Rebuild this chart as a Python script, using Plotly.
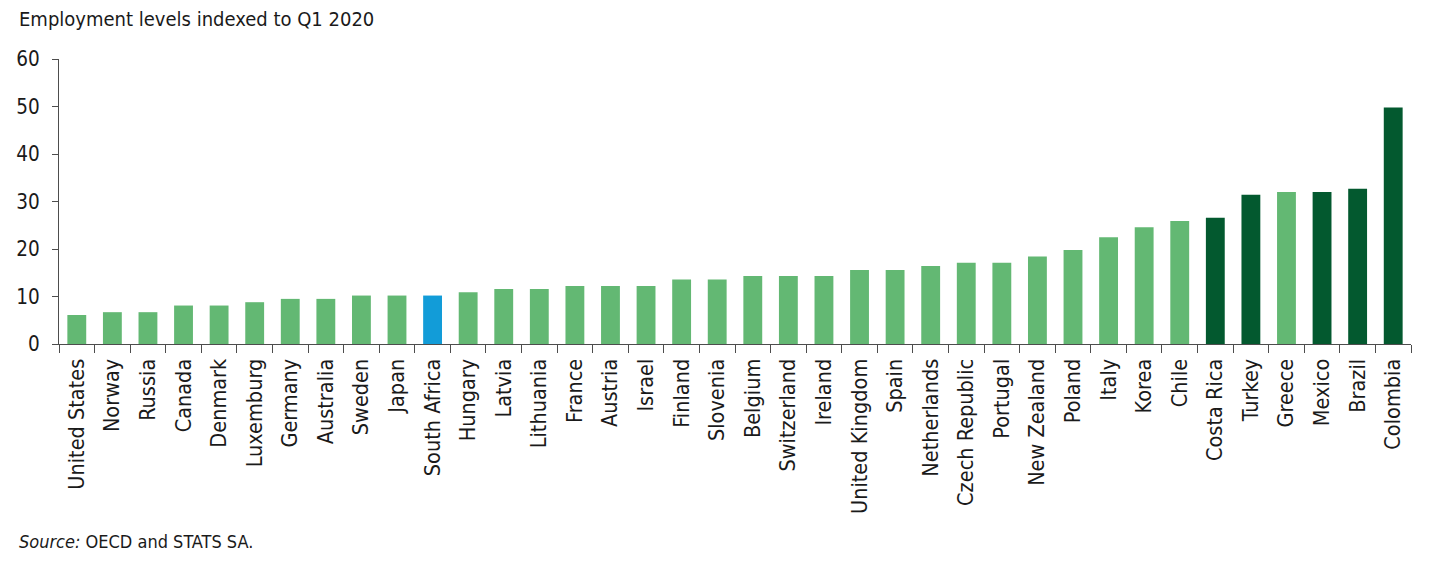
import plotly.graph_objects as go

countries = ["United States", "Norway", "Russia", "Canada", "Denmark", "Luxemburg", "Germany",
             "Australia", "Sweden", "Japan", "South Africa", "Hungary", "Latvia", "Lithuania",
             "France", "Austria", "Israel", "Finland", "Slovenia", "Belgium", "Switzerland",
             "Ireland", "United Kingdom", "Spain", "Netherlands", "Czech Republic", "Portugal",
             "New Zealand", "Poland", "Italy", "Korea", "Chile", "Costa Rica", "Turkey", "Greece",
             "Mexico", "Brazil", "Colombia"]
values = [6.1, 6.7, 6.7, 8.1, 8.1, 8.8, 9.5, 9.5, 10.2, 10.2, 10.2, 10.9, 11.6, 11.6,
          12.2, 12.2, 12.2, 13.6, 13.6, 14.3, 14.3, 14.3, 15.6, 15.6, 16.4, 17.1, 17.1,
          18.4, 19.8, 22.5, 24.6, 25.9, 26.6, 31.4, 32.0, 32.0, 32.7, 49.8]
highlight_sa = ["South Africa"]
highlight_dark = ["Costa Rica", "Turkey", "Mexico", "Brazil", "Colombia"]
y_ticks = [0, 10, 20, 30, 40, 50, 60]

LIGHT = "#63b873"
DARK = "#03592f"
BLUE = "#129cd8"
colors = [BLUE if c in highlight_sa else DARK if c in highlight_dark else LIGHT for c in countries]

FONT = "DejaVu Sans Condensed, Liberation Sans Narrow, sans-serif"
TXT = "#1a1a1a"
AX = "#4d4d4d"

# page body has an 8px margin, so the figure is sized/offset accordingly
W, H = 1425, 558
ML, MR, MT, MB = 51, 22, 51, 222
PW = W - ML - MR
PH = H - MT - MB

fig = go.Figure(go.Bar(x=countries, y=values, marker=dict(color=colors, line=dict(width=0)),
                       hoverinfo="x+y"))

fig.update_layout(
    width=W, height=H,
    margin=dict(l=ML, r=MR, t=MT, b=MB, autoexpand=False),
    plot_bgcolor="white", paper_bgcolor="white",
    bargap=0.47,
    showlegend=False,
    font=dict(family=FONT, size=20, color=TXT),
)
fig.update_xaxes(
    type="category", tickangle=-90, tickson="boundaries",
    ticks="outside", ticklen=8, tickcolor=AX, tickwidth=1.3,
    showline=True, linecolor=AX, linewidth=1.3, ticklabelstandoff=5,
    showgrid=False, tickfont=dict(family=FONT, size=21.5, color=TXT),
)
fig.update_yaxes(
    range=[0, 60], tickvals=y_ticks, ticks="outside", ticklen=6,
    tickcolor=AX, tickwidth=1.3, showline=True, linecolor=AX, linewidth=1.3,
    ticklabelstandoff=8,
    showgrid=False, zeroline=False, tickfont=dict(family=FONT, size=20.5, color=TXT),
)
fig.add_annotation(text="Employment levels indexed to Q1 2020", xref="paper", yref="paper",
                   x=(9 - ML) / PW, y=1 + (MT - 11) / PH, xanchor="left", yanchor="middle",
                   showarrow=False, font=dict(family=FONT, size=20, color=TXT))
fig.add_annotation(text="<i>Source:</i> OECD and STATS SA.", xref="paper", yref="paper",
                   x=(9 - ML) / PW, y=-(533 - (H - MB)) / PH, xanchor="left", yanchor="middle",
                   showarrow=False, font=dict(family=FONT, size=18, color=TXT))

fig.write_html("out.html")
